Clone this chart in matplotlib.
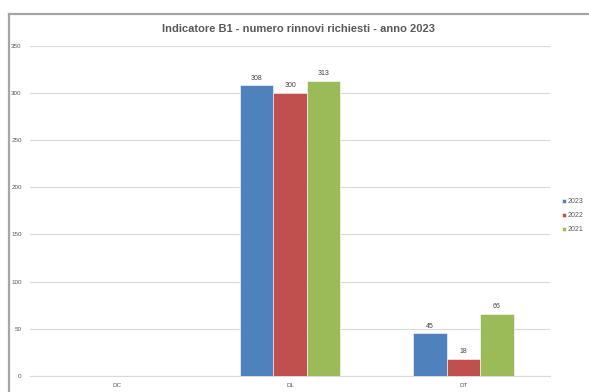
import numpy as np
import matplotlib.pyplot as plt
from matplotlib.lines import Line2D

categories = ['DC', 'DL', 'DT']
years = ['2023', '2022', '2021']
values = {
    '2023': [0, 308, 45],
    '2022': [0, 300, 18],
    '2021': [0, 313, 66],
}
colors = ['#4F81BD', '#C0504D', '#9BBB59']
yticks = [0, 50, 100, 150, 200, 250, 300, 350]

plt.rcParams['font.family'] = ['Liberation Sans Narrow', 'Liberation Sans', 'DejaVu Sans']

fig = plt.figure(figsize=(5.89, 3.92), dpi=100)
ax = fig.add_axes([0.051, 0.041, 0.883, 0.842])

x = np.arange(len(categories))
w = 0.193
for i, yr in enumerate(years):
    vals = values[yr]
    pos = x + (i - 1) * w
    bars = ax.bar(pos, vals, width=w, color=colors[i], edgecolor='white', linewidth=0.4,
                  label=yr, zorder=3)
    for b, v in zip(bars, vals):
        if v > 0:
            ax.text(b.get_x() + b.get_width() / 2, v + 4, str(v), ha='center', va='bottom',
                    fontsize=5, color='#404040')

ax.set_xlim(-0.5, 2.5)
ax.set_ylim(0, 350)
ax.set_yticks(yticks)
ax.set_xticks(x)
ax.set_xticklabels(categories)
ax.tick_params(axis='both', labelsize=4.5, colors='#595959', length=0, pad=6)
ax.tick_params(axis='x', pad=5)
ax.grid(axis='y', color='#D9D9D9', linewidth=0.8, zorder=0)
for s in ['top', 'right', 'left']:
    ax.spines[s].set_visible(False)
ax.spines['bottom'].set_color('#D9D9D9')
ax.spines['bottom'].set_linewidth(0.8)

ax.legend(loc='center left', bbox_to_anchor=(1.01, 0.485), frameon=False, fontsize=5,
          handlelength=0.6, handleheight=0.6, handletextpad=0.3, labelspacing=1.0,
          labelcolor='#595959')

fig.text(0.506, 0.925, 'Indicatore B1 - numero rinnovi richiesti - anno 2023', ha='center',
         va='center', fontsize=8, fontweight='bold', color='#595959')

# outer chart frame (left and top edges)
fig.add_artist(Line2D([0.0145, 0.0145], [0.0, 0.965], color='#A6A6A6', linewidth=1.6,
                      transform=fig.transFigure))
fig.add_artist(Line2D([0.0145, 1.0], [0.965, 0.965], color='#A6A6A6', linewidth=1.6,
                      transform=fig.transFigure))

fig.savefig('out.png', dpi=100)
